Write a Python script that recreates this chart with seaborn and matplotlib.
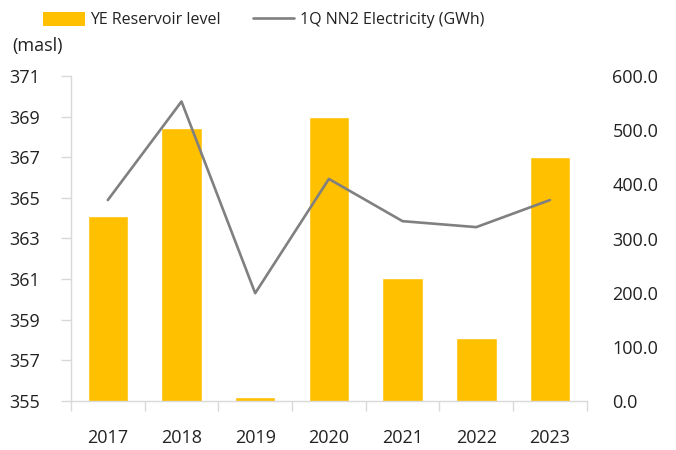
import numpy as np
import pandas as pd
import matplotlib
matplotlib.use("Agg")
import matplotlib.pyplot as plt
import seaborn as sns
from matplotlib.patches import Patch
from matplotlib.lines import Line2D
from matplotlib.ticker import FixedLocator, FormatStrFormatter

years = ["2017", "2018", "2019", "2020", "2021", "2022", "2023"]
reservoir = [364.1, 368.45, 355.2, 369.0, 361.05, 358.1, 367.0]
electricity = [371, 553, 199, 410, 332, 321, 371]

bar_color = "#FFC000"
line_color = "#808080"
axis_color = "#D9D9D9"

sns.set_theme(style="white")
plt.rcParams["font.family"] = ["Open Sans", "DejaVu Sans"]

df = pd.DataFrame({"year": years, "reservoir": reservoir, "electricity": electricity})
df["pos"] = np.arange(len(df))

fig = plt.figure(figsize=(6.76, 4.5), dpi=100)
ax = fig.add_axes([0.105, 0.109, 0.763, 0.722])

sns.barplot(data=df, x="year", y="reservoir", color=bar_color, width=0.55,
            saturation=1, ax=ax, zorder=2)
ax.set_ylim(355, 371)
ax.set_yticks(np.arange(355, 372, 2))
ax.set_xlim(-0.5, len(years) - 0.5)
ax.set_xlabel("")
ax.set_ylabel("")

ax2 = ax.twinx()
sns.lineplot(data=df, x="pos", y="electricity", color=line_color, linewidth=1.9, ax=ax2)
ax2.set_ylim(0, 600)
ax2.set_yticks(np.arange(0, 601, 100))
ax2.yaxis.set_major_formatter(FormatStrFormatter("%.1f"))
ax2.set_ylabel("")
ax2.set_xlim(-0.5, len(years) - 0.5)

for a in (ax, ax2):
    for s in a.spines.values():
        s.set_visible(False)
ax.spines["left"].set_visible(True)
ax.spines["left"].set_color(axis_color)
ax.spines["bottom"].set_visible(True)
ax.spines["bottom"].set_color(axis_color)
ax.spines["left"].set_linewidth(1.0)
ax.spines["bottom"].set_linewidth(1.0)

ax.tick_params(axis="y", which="major", length=7, color=axis_color, width=1,
               labelsize=13, labelcolor="#222222", pad=15.5, left=True)
ax.set_xticks(np.arange(len(years)))
ax.set_xticklabels(years)
ax.tick_params(axis="x", which="major", length=0, labelsize=13, labelcolor="#222222", pad=20)
ax.xaxis.set_minor_locator(FixedLocator(np.arange(-0.5, len(years), 1.0)))
ax.tick_params(axis="x", which="minor", length=7, color=axis_color, width=1, bottom=True)
ax2.tick_params(axis="y", length=0, labelsize=13, labelcolor="#222222", pad=18.5)

fig.text(12 / 676, 1 - 46 / 450, "(masl)", fontsize=13, color="#222222", va="center", ha="left")

handles = [Patch(facecolor=bar_color, edgecolor="none", label="YE Reservoir level"),
           Line2D([0], [0], color=line_color, linewidth=1.9, label="1Q NN2 Electricity (GWh)")]
fig.legend(handles=handles, loc="center", bbox_to_anchor=(0.39, 1 - 20 / 450), ncol=2,
           frameon=False, fontsize=11.5, handlelength=2.6, handleheight=1.0,
           columnspacing=2.0, handletextpad=0.35, labelcolor="#222222")

fig.savefig("out.png", dpi=100)
